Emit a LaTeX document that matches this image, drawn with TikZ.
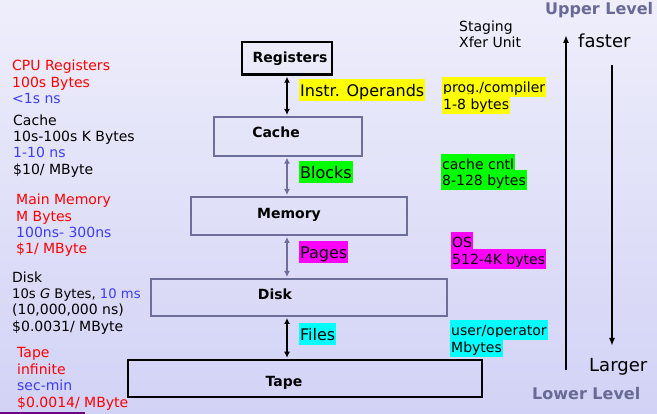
\documentclass[tikz,border=0pt]{standalone}
\usepackage{fontspec}
\setmainfont{DejaVu Sans}
\usetikzlibrary{arrows.meta}
\definecolor{bgtop}{RGB}{238,238,251}
\definecolor{bgbot}{RGB}{210,210,246}
\definecolor{boxgray}{RGB}{110,110,155}
\definecolor{lvl}{RGB}{105,105,150}
\definecolor{txtblue}{RGB}{60,60,250}
\definecolor{txtred}{RGB}{255,0,0}
\definecolor{hlyellow}{RGB}{255,255,0}
\definecolor{hlgreen}{RGB}{0,255,0}
\definecolor{hlmag}{RGB}{255,0,255}
\definecolor{hlcyan}{RGB}{0,255,255}
\definecolor{lineviolet}{RGB}{110,0,130}
\begin{document}
\begin{tikzpicture}[x=1pt,y=-1pt,
 lt/.style={anchor=base west, inner sep=0pt, font=\fontsize{14}{16}\selectfont},
 hl/.style={anchor=base west, inner xsep=1pt, inner ysep=0pt, text height=16pt, text depth=4.5pt, font=\fontsize{14}{16}\selectfont},
 hlbig/.style={anchor=base west, inner xsep=1pt, inner ysep=0pt, text height=18pt, text depth=4.5pt, font=\fontsize{16}{18}\selectfont},
 levelbox/.style={draw=boxgray, line width=2pt, inner sep=0pt},
 endbox/.style={draw=black, line width=2.5pt, inner sep=0pt},
 boxtext/.style={anchor=base, inner sep=0pt, font=\fontsize{14}{16}\selectfont\bfseries},
 lvltext/.style={anchor=base west, inner sep=0pt, text=lvl, font=\fontsize{16}{18}\selectfont\bfseries},
 bigtext/.style={anchor=base west, inner sep=0pt, font=\fontsize{18}{20}\selectfont},
 blackarr/.style={{Latex[length=6pt,width=6pt]}-{Latex[length=6pt,width=6pt]}, line width=2pt, draw=black, shorten <=1pt, shorten >=1pt},
 grayarr/.style={blackarr, draw=boxgray},
 sidearr/.style={-{Latex[length=8pt,width=6pt]}, line width=2pt, draw=black},
]
\shade[top color=bgtop, bottom color=bgbot] (0,0) rectangle (657,414);
\useasboundingbox (0,0) rectangle (657,414);

% level boxes
\node[endbox, minimum width=90pt, minimum height=32.5pt] (reg) at (287,58.25) {};
\node[levelbox, minimum width=148pt, minimum height=38.7pt] (cache) at (287.5,136.3) {};
\node[levelbox, minimum width=216pt, minimum height=38pt] (mem) at (299,216) {};
\node[levelbox, minimum width=296pt, minimum height=37pt] (disk) at (299,297.5) {};
\node[endbox, minimum width=354pt, minimum height=37pt] (tape) at (305,378.5) {};

\node[boxtext] (regt) at (290,63) {Registers};
\node[boxtext] (cachet) at (276,138) {Cache};
\node[boxtext] (memt) at (289,219) {Memory};
\node[boxtext] (diskt) at (275,300) {Disk};
\node[boxtext] (tapet) at (284,387) {Tape};

% connectors
\draw[blackarr] (reg.south) -- (cache.north -| reg.south);
\draw[grayarr] (cache.south -| reg.south) -- (mem.north -| reg.south);
\draw[grayarr] (mem.south -| reg.south) -- (disk.north -| reg.south);
\draw[blackarr] (disk.south -| reg.south) -- (tape.north -| reg.south);

% transfer labels
\node[hlbig, fill=hlyellow] (instr) at (299,97) {Instr. Operands};
\node[hlbig, fill=hlgreen] (blocks) at (299,179) {Blocks};
\node[hlbig, fill=hlmag] (pages) at (299,259) {Pages};
\node[hlbig, fill=hlcyan] (files) at (299,341) {Files};

% staging units
\node[lt] (stag1) at (459,32) {Staging};
\node[lt] (stag2) at (459,48) {Xfer Unit};
\node[hl, fill=hlyellow] (prog1) at (442,93) {prog./compiler};
\node[hl, fill=hlyellow] (prog2) at (442,110) {1-8 bytes};
\node[hl, fill=hlgreen] (cc1) at (441,170) {cache cntl};
\node[hl, fill=hlgreen] (cc2) at (441,186) {8-128 bytes};
\node[hl, fill=hlmag] (os1) at (451,248) {OS};
\node[hl, fill=hlmag] (os2) at (451,265) {512-4K bytes};
\node[hl, fill=hlcyan] (uo1) at (450,336) {user/operator};
\node[hl, fill=hlcyan] (uo2) at (450,353) {Mbytes};

% levels
\node[lvltext] (upper) at (545,15) {Upper Level};
\node[lvltext] (lower) at (532,400) {Lower Level};
\node[bigtext] (faster) at (578,48) {faster};
\node[bigtext] (larger) at (589,372) {Larger};
\coordinate (uptop) at (566,35);
\coordinate (upbot) at (566,370);
\coordinate (dntop) at (612,65);
\coordinate (dnbot) at (612,346);
\draw[sidearr] (upbot) -- (uptop);
\draw[sidearr] (dntop) -- (dnbot);

% left descriptions
\node[lt, text=txtred] (cpu1) at (12,71) {CPU Registers};
\node[lt, text=txtred] (cpu2) at (12,88) {100s Bytes};
\node[lt, text=txtblue] (cpu3) at (12,104) {\textless1s ns};

\node[lt] (ca1) at (13,126) {Cache};
\node[lt] (ca2) at (13,142) {10s-100s K Bytes};
\node[lt, text=txtblue] (ca3) at (13,158) {1-10 ns};
\node[lt] (ca4) at (13,175) {\$10/ MByte};

\node[lt, text=txtred] (mm1) at (16,205) {Main Memory};
\node[lt, text=txtred] (mm2) at (16,222) {M Bytes};
\node[lt, text=txtblue] (mm3) at (16,238) {100ns- 300ns};
\node[lt, text=txtred] (mm4) at (16,254) {\$1/ MByte};

\node[lt] (dk1) at (12,283) {Disk};
\node[lt, font=\fontsize{13.2}{16}\selectfont] (dk2) at (12,299) {10s \textit{G} Bytes, \textcolor{txtblue}{10 ms}};
\node[lt] (dk3) at (12,315) {(10,000,000 ns)};
\node[lt] (dk4) at (12,332) {\$0.0031/ MByte};

\node[lt, text=txtred] (tp1) at (17,358) {Tape};
\node[lt, text=txtred] (tp2) at (17,375) {infinite};
\node[lt, text=txtblue] (tp3) at (17,391) {sec-min};
\node[lt, text=txtred] (tp4) at (17,408) {\$0.0014/ MByte};

\coordinate (pl1) at (0,413);
\coordinate (pl2) at (85,413);
\draw[lineviolet, line width=1.5pt] (pl1) -- (pl2);
\end{tikzpicture}
\end{document}
